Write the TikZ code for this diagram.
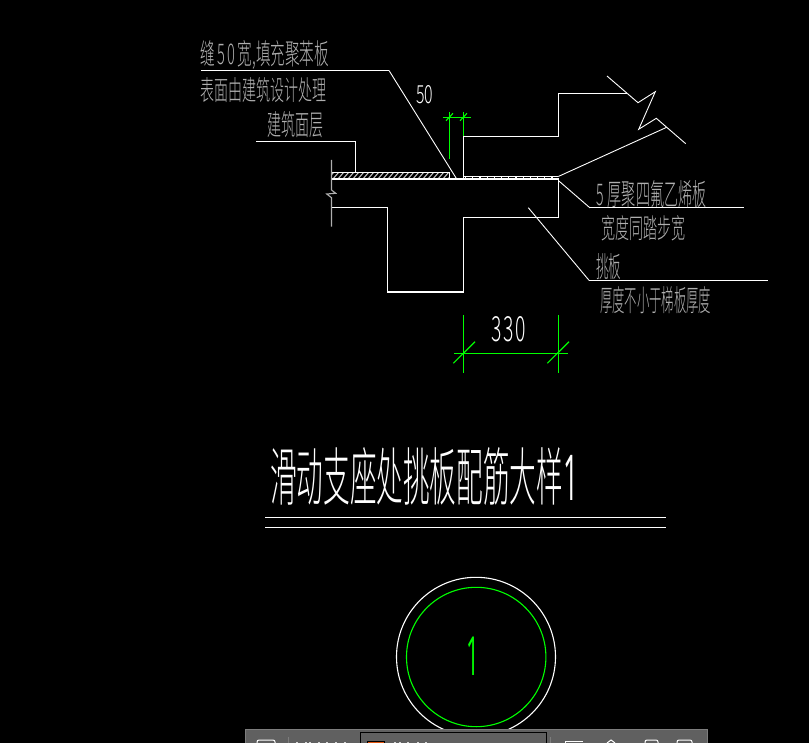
\documentclass[tikz,border=0pt]{standalone}
\usepackage{fontspec}
\setmainfont{Noto Sans CJK SC}[UprightFont=* Light]
\newfontfamily\digitfont{Open Sans}
\definecolor{cadgreen}{RGB}{0,255,0}
\definecolor{cadgray}{RGB}{175,175,175}
\definecolor{hatchgray}{RGB}{200,200,200}
\definecolor{barbg}{RGB}{96,96,96}
\definecolor{barrim}{RGB}{125,125,125}
\definecolor{orangeicon}{RGB}{225,85,15}
\tikzset{
  wline/.style={draw=white,line width=1.1pt,line join=miter},
  thin leader/.style={draw=white,line width=.9pt},
  gline/.style={draw=cadgreen,line width=1.2pt},
  glab/.style={inner sep=0,anchor=north west,text=cadgray},
  wlab/.style={inner sep=0,anchor=north west,text=white},
}
\newcommand{\fitbox}[3]{\resizebox{#1pt}{#2pt}{#3}}
\begin{document}
\begin{tikzpicture}[x=1pt,y=-1pt]
\useasboundingbox (0,0) rectangle (809,743);
\fill[black] (0,0) rectangle (809,743);
% hatch
\begin{scope}
\clip (331.5,172.5) rectangle (449.3,179);
\foreach \i in {0,5,...,130} {\draw[hatchgray,line width=1pt] (327+\i,180)--(334+\i,172);}
\end{scope}
\draw[draw=white,line width=1pt] (331.5,172.7)--(449.3,172.7)--(449.3,179);
% sliding layer
\draw[white,line width=1pt] (463.3,176.6)--(558,176.6);
\draw[white,line width=1.6pt,dash pattern=on 1.2pt off 6pt] (465,178)--(558,178);
% concrete outlines
\draw[wline] (331.5,179)--(558.3,179)--(558.3,217.5)--(463.3,217.5)--(463.3,292)--(387.5,292)--(387.5,207.4)--(331.5,207.4);
\draw[wline] (463.3,179)--(463.3,136.3)--(558.5,136.3)--(558.5,93.3)--(626.7,93.3);
% break lines
\draw[draw=cadgray,line width=1.1pt] (331.5,160)--(331.5,190)--(335.7,193.3)--(326.7,194)--(331.5,197.7)--(331.5,226.7);
\draw[thin leader] (607,76)--(638,102.7)--(655.3,91.7)--(638.7,129.3)--(656.3,118.3)--(685.7,143.7);
\draw[thin leader] (558.3,176.5)--(666.7,127.3);
% leaders
\draw[wline] (201,70.5)--(389,70.5);
\draw[thin leader] (389,70.5)--(456.7,179);
\draw[wline] (256,141.6)--(355.7,141.6)--(355.7,172.7);
\draw[thin leader] (558.3,180.5)--(590,207.9);
\draw[wline] (590,207.9)--(743.7,207.9);
\draw[thin leader] (528.3,207.7)--(589,280.3);
\draw[wline] (589,280.3)--(768,280.3);
% dimensions
\draw[gline] (449.3,111.7)--(449.3,159);
\draw[gline] (463.3,111.7)--(463.3,136.3);
\draw[gline] (443.3,117.3)--(471,117.3);
\draw[gline] (446,120.7)--(453,113.3);
\draw[gline] (460,120.7)--(467,113.3);
\draw[gline] (463.3,315)--(463.3,372.7);
\draw[gline] (558.3,315)--(558.3,372.7);
\draw[gline] (454,353.3)--(568,353.3);
\draw[gline] (453.3,363.3)--(475,341.7);
\draw[gline] (547.3,363.3)--(569,341.7);
% texts
\node[glab] (t1) at (200,40) {\fitbox{129}{24}{缝\kern.15em 5\kern.2em 0\kern.15em 宽,填充聚苯板}};
\node[glab] (t2) at (200,77) {\fitbox{126}{23}{表面由建筑设计处理}};
\node[glab] (t3) at (267,111) {\fitbox{56}{24}{建筑面层}};
\node[wlab] (t4) at (416,85) {\fitbox{17}{18}{50}};
\node[glab] (t5) at (596,180) {\fitbox{110}{25}{5\kern.3em 厚聚四氟乙烯板}};
\node[glab] (t6) at (601,215) {\fitbox{84}{23}{宽度同踏步宽}};
\node[glab] (t7) at (596,253) {\fitbox{25}{24}{挑板}};
\node[glab] (t8) at (600,286) {\fitbox{111}{25}{厚度不小于梯板厚度}};
\node[wlab] (t9) at (491,316) {\fitbox{35}{25}{3\kern.1em 3\kern.1em 0}};
\node[wlab] (t10) at (270,447) {\fitbox{308}{53}{滑动支座处挑板配筋大样\digitfont 1}};
% title rules
\draw[draw=white,line width=1pt] (265,517.5)--(666,517.5);
\draw[draw=white,line width=1pt] (265,527)--(666,527);
% bubble
\node[draw=white,line width=1.1pt,circle,minimum size=159pt,inner sep=0] (c1) at (476,656.8) {};
\node[draw=cadgreen,line width=1.1pt,circle,minimum size=139.4pt,inner sep=0] (c2) at (476.2,657) {};
\node[inner sep=0,text=cadgreen] (n1) at (473,656.7) {\fitbox{13}{38.5}{\digitfont 1}};
% bottom toolbar
\fill[barbg] (245,729) rectangle (708,743);
\draw[barrim,line width=1pt] (245.5,743)--(245.5,729.5)--(707.5,729.5)--(707.5,743);
\fill[black] (360,732) rectangle (547,743);
\fill[barbg] (361,733) rectangle (546,743);
\fill[orangeicon] (367,741) rectangle (384,743);
\draw[black,line width=.7pt] (367,741) rectangle (384,744);
\draw[barrim,line width=1pt] (288.5,737)--(288.5,743);
\draw[barrim,line width=1pt] (550.5,737)--(550.5,743);
\draw[white,line width=1pt,rounded corners=2pt] (257,743)--(257,740)--(275,740)--(275,743);
\draw[white,line width=1pt,rounded corners=2pt] (645,743)--(645,740)--(658,740)--(658,743);
\draw[white,line width=1pt,rounded corners=2pt] (677,743)--(677,740)--(692,740)--(692,743);
\draw[white,line width=1pt] (565,743)--(565,741)--(583,741);
\draw[white,line width=1pt] (607,743)--(611,740)--(615,743);
\foreach \x in {296,305,309,318,326,335,344,394,399,407,417,425} {\fill[white!75!barbg] (\x,741.5) rectangle (\x+1.5,743);}
\end{tikzpicture}
\end{document}
